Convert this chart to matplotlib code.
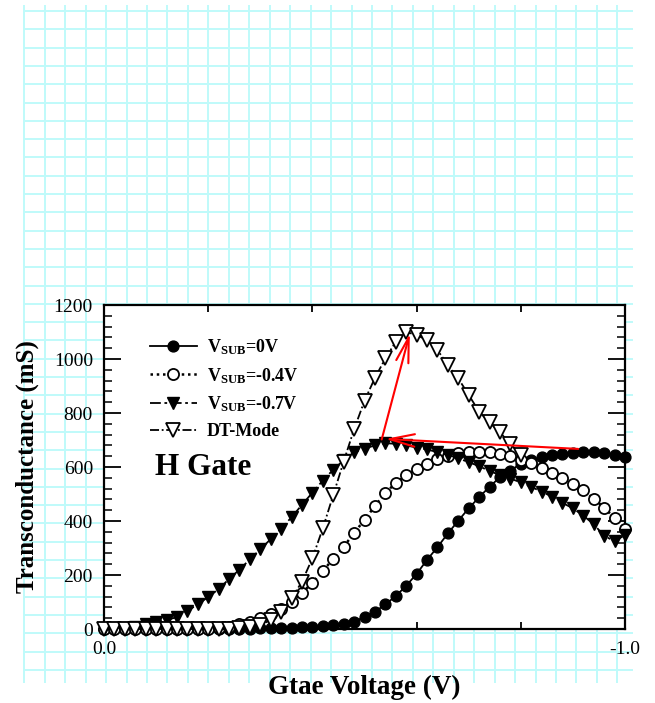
import numpy as np
import matplotlib
matplotlib.use('Agg')
import matplotlib.pyplot as plt

# ---------------- data ----------------
# gate-voltage sweep: 0.0 V to -1.0 V in 0.02 V steps
gate_voltage = np.linspace(0.0, -1.0, 51)

gm_vsub_0 = [0, 0, 0, 0, 0, 0, 0, 0, 0, 0, 0, 0, 0, 1, 1, 2, 2, 3, 4, 6,
             8, 10, 13, 18, 27, 45, 64, 91, 122, 160, 204, 256, 303, 354, 401, 447, 488, 527, 562, 587,
             612, 625, 637, 646, 650, 652, 657, 654, 652, 646, 637]

gm_vsub_04 = [0, 0, 0, 0, 0, 0, 0, 0, 0, 0, 0, 2, 9, 17, 27, 40, 55, 75, 100, 133,
              172, 215, 260, 305, 355, 405, 455, 505, 540, 570, 592, 612, 628, 642, 652, 657, 657, 654, 648, 640,
              626, 613, 595, 577, 558, 538, 513, 482, 450, 410, 370]

gm_vsub_07 = [0, 2, 5, 9, 18, 26, 33, 44, 66, 92, 118, 148, 185, 220, 258, 295, 333, 372, 414, 460,
              505, 550, 590, 625, 655, 668, 680, 688, 686, 680, 672, 665, 655, 645, 632, 618, 603, 585, 570, 557,
              543, 526, 509, 490, 467, 447, 420, 388, 345, 325, 348]

# DT-Mode measured only down to -0.8 V
gm_dt = [0, 0, 0, 0, 0, 0, 0, 0, 0, 0, 0, 0, 0, 3, 8, 15, 33, 62, 114, 175,
         262, 373, 496, 620, 740, 845, 930, 1002, 1064, 1100, 1089, 1070, 1033, 978, 928, 867, 805, 765, 728, 686,
         644]

labels = [r'$\mathbf{V_{SUB}}$=0V', r'$\mathbf{V_{SUB}}$=-0.4V',
          r'$\mathbf{V_{SUB}}$=-0.7V', 'DT-Mode']
y_ticks = [0, 200, 400, 600, 800, 1000, 1200]
x_ticks = [0.0, -0.2, -0.4, -0.6, -0.8, -1.0]
x_ticklabels = ['0.0', '', '', '', '', '-1.0']

# arrows (data coords): horizontal arrow to -0.7V peak, then up to DT peak
arrow1 = ((-0.910, 667), (-0.540, 704))
arrow2 = ((-0.533, 702), (-0.587, 1095))

# ---------------- style ----------------
plt.rcParams['font.family'] = ['Liberation Serif', 'DejaVu Serif']
plt.rcParams['mathtext.fontset'] = 'custom'
plt.rcParams['mathtext.rm'] = 'Liberation Serif'
plt.rcParams['mathtext.bf'] = 'Liberation Serif:bold'

W, H = 655, 703
fig = plt.figure(figsize=(W / 100, H / 100), dpi=100)

# graph-paper background
bg = fig.add_axes([0, 0, 1, 1], zorder=0)
bg.set_xlim(0, W)
bg.set_ylim(H, 0)
bg.axis('off')
gx = 24.3 + 20.45 * np.arange(30)
gy = 11.0 + 18.3 * np.arange(37)
grid_c = '#bffafa'
bg.vlines(gx, 5, 683, color=grid_c, lw=1.4)
bg.hlines(gy, 24, 633, color=grid_c, lw=1.4)

ax = fig.add_axes([104 / W, 1 - 629 / H, 521 / W, 324 / H], zorder=1)
ax.set_facecolor('white')

ax.plot(gate_voltage, gm_vsub_0, ls='-', color='k', lw=1.3, marker='o', ms=7.8,
        mfc='k', mec='k', clip_on=False, label=labels[0], zorder=3)
ax.plot(gate_voltage, gm_vsub_04, ls=(0, (1, 1.5)), color='k', lw=1.8, marker='o', ms=8,
        mfc='white', mec='k', mew=1.3, clip_on=False, label=labels[1], zorder=3)
ax.plot(gate_voltage, gm_vsub_07, ls=(0, (6, 2, 1.5, 2)), color='k', lw=1.3, marker='v', ms=9.3,
        mfc='k', mec='k', clip_on=False, label=labels[2], zorder=3)
ax.plot(gate_voltage[:len(gm_dt)], gm_dt, ls=(0, (5, 1.5, 1, 1.5)), color='k', lw=1.3, marker='v',
        ms=9.6, mfc='white', mec='k', mew=1.3, clip_on=False, label=labels[3], zorder=3)

ax.set_xlim(0, -1.0)
ax.set_ylim(0, 1200)
ax.set_xticks(x_ticks)
ax.set_xticklabels(x_ticklabels)
ax.set_yticks(y_ticks)
ax.set_yticks(np.arange(0, 1201, 40), minor=True)
ax.tick_params(axis='x', which='both', direction='in', top=True, bottom=True,
               length=5, width=1.3, labelsize=14, pad=9)
ax.tick_params(axis='y', which='major', direction='in', left=True, right=True,
               length=12, width=1.3, labelsize=14, pad=8)
ax.tick_params(axis='y', which='minor', direction='in', left=True, right=True,
               length=6, width=1.1)
for s in ax.spines.values():
    s.set_linewidth(1.6)

for (x0, y0), (x1, y1) in [arrow1, arrow2]:
    ax.annotate('', xy=(x1, y1), xytext=(x0, y0),
                arrowprops=dict(arrowstyle='->,head_length=1.8,head_width=0.45',
                                color='red', lw=1.5, shrinkA=0, shrinkB=0,
                                mutation_scale=10), zorder=5)

ax.legend(loc='upper left', bbox_to_anchor=(0.088, 0.901), frameon=False,
          prop={'weight': 'bold', 'size': 13}, handlelength=2.6, handletextpad=0.55,
          labelspacing=0.5, borderpad=0, borderaxespad=0)

ax.text(0.098, 0.497, 'H Gate', transform=ax.transAxes, ha='left', va='center',
        fontsize=22.5, fontweight='bold')

fig.text(27 / W, 1 - 467 / H, 'Transconductance (mS)', rotation=90, ha='center',
         va='center', fontsize=18, fontweight='bold')
fig.text(364.5 / W, 1 - 687 / H, 'Gtae Voltage (V)', ha='center', va='center',
         fontsize=19.5, fontweight='bold')

fig.savefig('out.png', dpi=100)
